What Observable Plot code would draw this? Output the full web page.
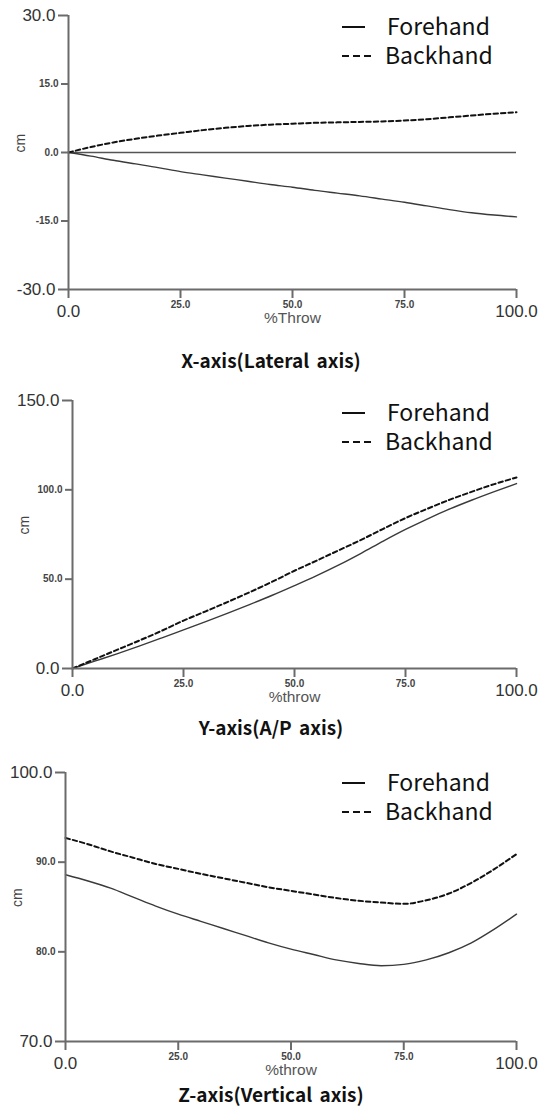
<!DOCTYPE html>
<html><head><meta charset="utf-8">
<script src="https://cdn.jsdelivr.net/npm/d3@7"></script>
<script src="https://cdn.jsdelivr.net/npm/@observablehq/plot@0.6"></script>
<style>
body{margin:0;background:#fff;}
#page{position:relative;width:544px;height:1108px;overflow:hidden;background:#fff;}
.panel{position:absolute;left:0;}
.title{position:absolute;left:0;width:544px;text-align:center;font-family:"Noto Sans CJK KR","Noto Sans",sans-serif;font-weight:bold;font-size:19px;color:#111;word-spacing:3px;line-height:20px;}
.lg{position:absolute;font-family:"Noto Sans CJK KR","Noto Sans",sans-serif;font-size:23px;color:#111;line-height:24px;white-space:nowrap;}
.lgline{position:absolute;}
</style>
</head><body><div id="page"></div>
<script>
const pct = [0,5,10,15,20,25,30,35,40,45,50,55,60,65,70,75,80,85,90,95,100];
const seriesNames = ["Forehand","Backhand"];
// X-axis (Lateral axis)
const xForehand = [0,-0.8,-1.7,-2.5,-3.3,-4.2,-4.9,-5.6,-6.3,-7.0,-7.6,-8.3,-8.9,-9.5,-10.2,-10.9,-11.7,-12.5,-13.2,-13.7,-14.1];
const xBackhand = [0,1.2,2.2,3.0,3.7,4.3,4.9,5.4,5.8,6.1,6.3,6.5,6.6,6.7,6.8,7.0,7.3,7.7,8.1,8.5,8.8];
// Y-axis (A/P axis)
const yForehand = [0,4.1,8.2,12.5,17,21.6,26.2,31,35.9,41,46.4,52,58,64.5,71.3,77.8,83.8,89.3,94.3,99,103.5];
const yBackhand = [0,5.2,10.4,15.6,21,26.8,32,37.3,42.8,48.6,54.7,60.4,66.2,72,78.2,84.2,89.5,94.5,99,103.2,106.9];
// Z-axis (Vertical axis)
const zForehand = [88.6,87.9,87.1,86.1,85.1,84.2,83.4,82.6,81.8,81.0,80.3,79.7,79.1,78.7,78.45,78.6,79.1,79.9,81.0,82.5,84.2];
const zBackhand = [92.7,92.0,91.2,90.5,89.8,89.25,88.7,88.2,87.7,87.2,86.8,86.4,86.0,85.7,85.5,85.35,85.75,86.5,87.7,89.2,90.9];
// tick labels
const xEndTicks = [0,100];
const xMidTicks = [25,50,75];
const panel1YEnd = [-30,30], panel1YMid = [-15,0,15];
const panel2YEnd = [0,150], panel2YMid = [50,100];
const panel3YEnd = [70,100], panel3YMid = [80,90];
const titles = ["X-axis(Lateral axis)","Y-axis(A/P axis)","Z-axis(Vertical axis)"];
const xLabels = ["%Throw","%throw","%throw"];
const yLabel = "cm";

const fmt = d => d.toFixed(1);
const AX = "#6b6b6b";
const page = document.getElementById("page");

function panel(cfg){
  const fore = pct.map((p,i)=>({p, v: cfg.fore[i], s: seriesNames[0]}));
  const back = pct.map((p,i)=>({p, v: cfg.back[i], s: seriesNames[1]}));
  const marks = [];
  if (cfg.zero) marks.push(Plot.ruleY([0], {stroke:"#555", strokeWidth:1.5}));
  marks.push(
    Plot.line(fore, {x:"p", y:"v", stroke:"#3a3a3a", strokeWidth:1.4, curve:"monotone-x"}),
    Plot.line(back, {x:"p", y:"v", stroke:"#111", strokeWidth:2, strokeDasharray:"4.5,3", curve:"monotone-x"}),
    Plot.ruleX([0], {stroke:AX, strokeWidth:2}),
    Plot.ruleY([cfg.yDomain[0]], {stroke:AX, strokeWidth:2}),
    Plot.axisY({ticks: cfg.yEnd, tickSize:10, tickFormat:()=>"", color:AX, strokeWidth:2, label:null}),
    Plot.axisY({ticks: cfg.yMid, tickSize:7, tickFormat:()=>"", color:AX, strokeWidth:2, label:null}),
    Plot.axisY({ticks: cfg.yEnd, tickSize:0, tickPadding:13, fontSize:17, fontFamily:"Liberation Sans", tickFormat:fmt, color:"#333", label:null}),
    Plot.axisY({ticks: cfg.yMid, tickSize:0, tickPadding:10, fontSize:10, fontWeight:"bold", fontFamily:"Liberation Sans", tickFormat:fmt, color:"#444", label:null}),
    Plot.axisX({ticks: xEndTicks.concat(xMidTicks), tickSize:9, tickFormat:()=>"", color:AX, strokeWidth:2, label:null}),
    Plot.axisX({ticks: xEndTicks, tickSize:0, tickPadding:15, fontSize:17, fontFamily:"Liberation Sans", tickFormat:fmt, color:"#333", label:null}),
    Plot.axisX({ticks: xMidTicks, tickSize:0, tickPadding:11, fontSize:10, fontWeight:"bold", fontFamily:"Liberation Sans", tickFormat:fmt, color:"#444", label:null}),
    Plot.text([cfg.xLabel], {text:d=>d, frameAnchor:"bottom", dy:33, fontSize:15.5, fontFamily:"Liberation Sans", fill:"#555"}),
    Plot.text([yLabel], {text:d=>d, frameAnchor:"left", rotate:-90, dx:-48, fontSize:14, fontFamily:"Liberation Sans", fill:"#444"})
  );
  const chart = Plot.plot({
    width:544, height:cfg.height,
    marginLeft:cfg.ml, marginRight:28, marginTop:cfg.mt, marginBottom:cfg.mb,
    x:{domain:[0,100]}, y:{domain:cfg.yDomain},
    style:{background:"transparent", overflow:"visible"},
    marks
  });
  const div = document.createElement("div");
  div.className = "panel"; div.style.top = cfg.top + "px";
  div.appendChild(chart); page.appendChild(div);

  const t = document.createElement("div");
  t.className = "title"; t.style.top = (cfg.titleY - 10) + "px"; t.style.left = "-1px";
  t.textContent = cfg.title; page.appendChild(t);

  // legend
  seriesNames.forEach((name, i) => {
    const cy = cfg.legY + i*29;
    const svgNS = "http://www.w3.org/2000/svg";
    const s = document.createElementNS(svgNS, "svg");
    s.setAttribute("width", 34); s.setAttribute("height", 6);
    s.setAttribute("class","lgline");
    s.style.left = "342px"; s.style.top = (cy - 2) + "px";
    const l = document.createElementNS(svgNS, "line");
    l.setAttribute("x1", 0); l.setAttribute("y1", 3);
    l.setAttribute("x2", i === 0 ? 23 : 31); l.setAttribute("y2", 3);
    l.setAttribute("stroke", "#111"); l.setAttribute("stroke-width", 2);
    if (i === 1) l.setAttribute("stroke-dasharray", "7,4");
    s.appendChild(l); page.appendChild(s);
    const d = document.createElement("div");
    d.className = "lg"; d.textContent = name;
    d.style.left = (i === 0 ? 387 : 385) + "px"; d.style.top = (cy - 13) + "px";
    page.appendChild(d);
  });
}

panel({fore:xForehand, back:xBackhand, yDomain:[-30,30], yEnd:panel1YEnd, yMid:panel1YMid, zero:true,
  top:0, height:345, mt:15, mb:56, ml:68, xLabel:xLabels[0], title:titles[0], titleY:360, legY:26});
panel({fore:yForehand, back:yBackhand, yDomain:[0,150], yEnd:panel2YEnd, yMid:panel2YMid, zero:false,
  top:380, height:345, mt:20, mb:57, ml:72, xLabel:xLabels[1], title:titles[1], titleY:727, legY:412});
panel({fore:zForehand, back:zBackhand, yDomain:[70,100], yEnd:panel3YEnd, yMid:panel3YMid, zero:false,
  top:750, height:345, mt:22, mb:54, ml:65, xLabel:xLabels[2], title:titles[2], titleY:1094, legY:782});
</script>
</body></html>
